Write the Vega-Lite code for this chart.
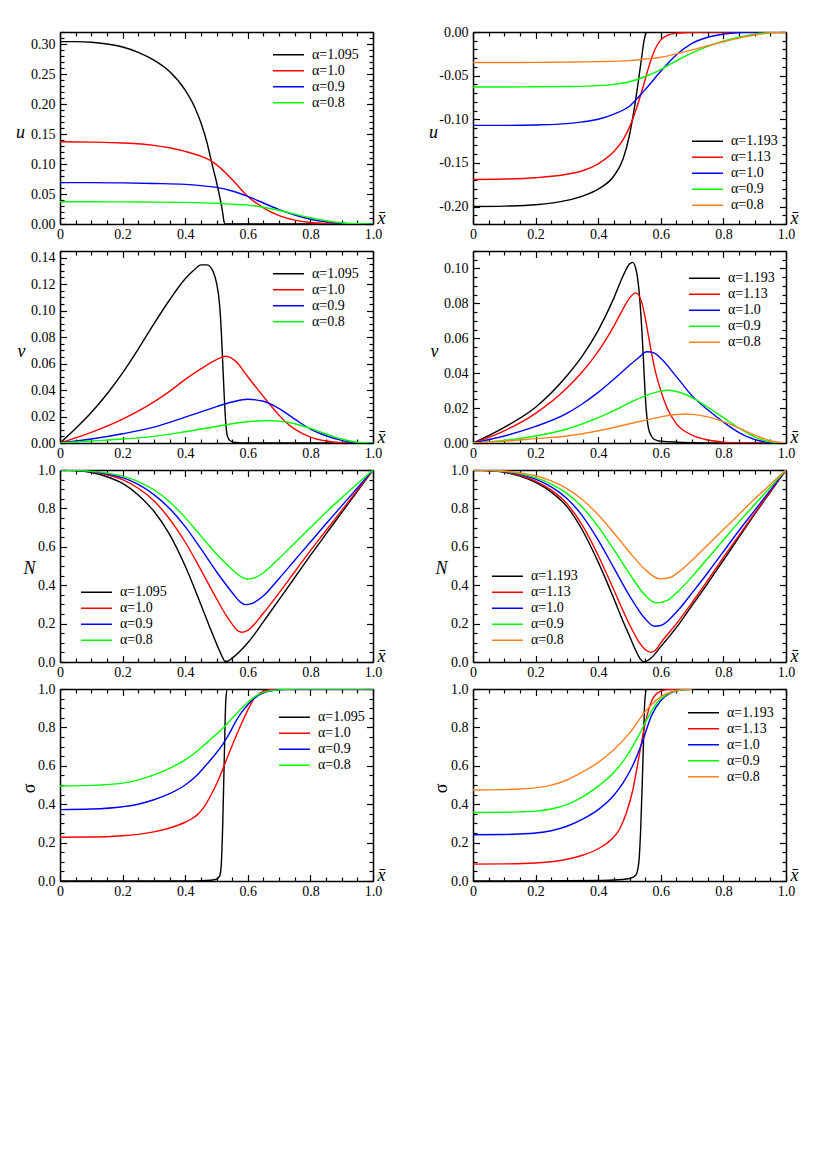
{
  "$schema": "https://vega.github.io/schema/vega-lite/v6.json",
  "background": "white",
  "padding": {"left": 15, "top": 25, "right": 5, "bottom": 5},
  "config": {
    "view": {"stroke": null},
    "font": "Liberation Serif, DejaVu Serif, serif",
    "axis": {
      "grid": false,
      "domainColor": "black",
      "domainWidth": 1.5,
      "tickColor": "black",
      "tickWidth": 1.2,
      "labelFont": "Liberation Serif, DejaVu Serif, serif",
      "labelFontSize": 14,
      "labelColor": "black",
      "labelFlush": false,
      "labelOverlap": false,
      "titleFont": "Liberation Serif, DejaVu Serif, serif",
      "titleFontSize": 18,
      "titleFontStyle": "italic",
      "titleFontWeight": "normal",
      "titleColor": "black"
    },
    "legend": {
      "orient": "none",
      "symbolType": "stroke",
      "symbolSize": 961,
      "symbolStrokeWidth": 1.5,
      "labelFont": "Liberation Serif, DejaVu Serif, serif",
      "labelFontSize": 14,
      "labelColor": "black",
      "labelOffset": 7,
      "labelLimit": 0,
      "clipHeight": 15.6,
      "rowPadding": 0,
      "padding": 0
    }
  },
  "datasets": {
    "uL": [
      {"a":"α=1.095","x":0,"y":0.304},{"a":"α=1.095","x":0.05,"y":0.304},{"a":"α=1.095","x":0.1,"y":0.303},{"a":"α=1.095","x":0.15,"y":0.3},{"a":"α=1.095","x":0.2,"y":0.295},{"a":"α=1.095","x":0.25,"y":0.286},{"a":"α=1.095","x":0.3,"y":0.273},{"a":"α=1.095","x":0.35,"y":0.254},{"a":"α=1.095","x":0.4,"y":0.223},{"a":"α=1.095","x":0.43,"y":0.195},{"a":"α=1.095","x":0.45,"y":0.169},{"a":"α=1.095","x":0.47,"y":0.135},{"a":"α=1.095","x":0.48,"y":0.113},{"a":"α=1.095","x":0.49,"y":0.091},{"a":"α=1.095","x":0.5,"y":0.07},{"a":"α=1.095","x":0.51,"y":0.046},{"a":"α=1.095","x":0.515,"y":0.033},{"a":"α=1.095","x":0.52,"y":0.018},{"a":"α=1.095","x":0.524,"y":0.004},{"a":"α=1.095","x":0.528,"y":0},{"a":"α=1.095","x":0.6,"y":0},{"a":"α=1.095","x":0.8,"y":0},{"a":"α=1.095","x":1,"y":0},
      {"a":"α=1.0","x":0,"y":0.137},{"a":"α=1.0","x":0.1,"y":0.1365},{"a":"α=1.0","x":0.2,"y":0.135},{"a":"α=1.0","x":0.3,"y":0.131},{"a":"α=1.0","x":0.35,"y":0.127},{"a":"α=1.0","x":0.4,"y":0.121},{"a":"α=1.0","x":0.45,"y":0.113},{"a":"α=1.0","x":0.48,"y":0.106},{"a":"α=1.0","x":0.5,"y":0.099},{"a":"α=1.0","x":0.55,"y":0.074},{"a":"α=1.0","x":0.6,"y":0.046},{"a":"α=1.0","x":0.65,"y":0.027},{"a":"α=1.0","x":0.7,"y":0.014},{"a":"α=1.0","x":0.75,"y":0.0065},{"a":"α=1.0","x":0.8,"y":0.0025},{"a":"α=1.0","x":0.85,"y":0.0008},{"a":"α=1.0","x":0.9,"y":0.0002},{"a":"α=1.0","x":0.95,"y":0},{"a":"α=1.0","x":1,"y":0},
      {"a":"α=0.9","x":0,"y":0.069},{"a":"α=0.9","x":0.1,"y":0.069},{"a":"α=0.9","x":0.2,"y":0.0685},{"a":"α=0.9","x":0.3,"y":0.0675},{"a":"α=0.9","x":0.4,"y":0.066},{"a":"α=0.9","x":0.45,"y":0.064},{"a":"α=0.9","x":0.5,"y":0.061},{"a":"α=0.9","x":0.55,"y":0.055},{"a":"α=0.9","x":0.6,"y":0.046},{"a":"α=0.9","x":0.65,"y":0.035},{"a":"α=0.9","x":0.7,"y":0.024},{"a":"α=0.9","x":0.75,"y":0.015},{"a":"α=0.9","x":0.8,"y":0.008},{"a":"α=0.9","x":0.85,"y":0.0035},{"a":"α=0.9","x":0.9,"y":0.001},{"a":"α=0.9","x":0.95,"y":0.0001},{"a":"α=0.9","x":1,"y":0},
      {"a":"α=0.8","x":0,"y":0.037},{"a":"α=0.8","x":0.1,"y":0.037},{"a":"α=0.8","x":0.2,"y":0.0368},{"a":"α=0.8","x":0.3,"y":0.0365},{"a":"α=0.8","x":0.4,"y":0.036},{"a":"α=0.8","x":0.5,"y":0.0345},{"a":"α=0.8","x":0.55,"y":0.033},{"a":"α=0.8","x":0.6,"y":0.0315},{"a":"α=0.8","x":0.65,"y":0.028},{"a":"α=0.8","x":0.7,"y":0.023},{"a":"α=0.8","x":0.75,"y":0.0165},{"a":"α=0.8","x":0.8,"y":0.0105},{"a":"α=0.8","x":0.85,"y":0.0055},{"a":"α=0.8","x":0.9,"y":0.002},{"a":"α=0.8","x":0.95,"y":0.0003},{"a":"α=0.8","x":1,"y":0}
    ],
    "uR": [
      {"a":"α=1.193","x":0,"y":-0.2},{"a":"α=1.193","x":0.1,"y":-0.1995},{"a":"α=1.193","x":0.2,"y":-0.198},{"a":"α=1.193","x":0.3,"y":-0.193},{"a":"α=1.193","x":0.35,"y":-0.188},{"a":"α=1.193","x":0.4,"y":-0.18},{"a":"α=1.193","x":0.45,"y":-0.165},{"a":"α=1.193","x":0.48,"y":-0.145},{"a":"α=1.193","x":0.5,"y":-0.118},{"a":"α=1.193","x":0.51,"y":-0.099},{"a":"α=1.193","x":0.52,"y":-0.077},{"a":"α=1.193","x":0.53,"y":-0.052},{"a":"α=1.193","x":0.54,"y":-0.026},{"a":"α=1.193","x":0.545,"y":-0.013},{"a":"α=1.193","x":0.55,"y":-0.004},{"a":"α=1.193","x":0.555,"y":-0.0005},{"a":"α=1.193","x":0.56,"y":0},{"a":"α=1.193","x":0.7,"y":0},{"a":"α=1.193","x":1,"y":0},
      {"a":"α=1.13","x":0,"y":-0.169},{"a":"α=1.13","x":0.1,"y":-0.1685},{"a":"α=1.13","x":0.2,"y":-0.167},{"a":"α=1.13","x":0.3,"y":-0.163},{"a":"α=1.13","x":0.35,"y":-0.159},{"a":"α=1.13","x":0.4,"y":-0.151},{"a":"α=1.13","x":0.45,"y":-0.137},{"a":"α=1.13","x":0.48,"y":-0.123},{"a":"α=1.13","x":0.5,"y":-0.109},{"a":"α=1.13","x":0.52,"y":-0.09},{"a":"α=1.13","x":0.54,"y":-0.067},{"a":"α=1.13","x":0.56,"y":-0.042},{"a":"α=1.13","x":0.58,"y":-0.021},{"a":"α=1.13","x":0.6,"y":-0.009},{"a":"α=1.13","x":0.62,"y":-0.004},{"a":"α=1.13","x":0.65,"y":-0.0015},{"a":"α=1.13","x":0.7,"y":-0.0003},{"a":"α=1.13","x":0.75,"y":0},{"a":"α=1.13","x":1,"y":0},
      {"a":"α=1.0","x":0,"y":-0.107},{"a":"α=1.0","x":0.1,"y":-0.107},{"a":"α=1.0","x":0.2,"y":-0.1065},{"a":"α=1.0","x":0.3,"y":-0.105},{"a":"α=1.0","x":0.35,"y":-0.103},{"a":"α=1.0","x":0.4,"y":-0.1},{"a":"α=1.0","x":0.45,"y":-0.094},{"a":"α=1.0","x":0.5,"y":-0.085},{"a":"α=1.0","x":0.55,"y":-0.066},{"a":"α=1.0","x":0.6,"y":-0.045},{"a":"α=1.0","x":0.65,"y":-0.026},{"a":"α=1.0","x":0.7,"y":-0.013},{"a":"α=1.0","x":0.75,"y":-0.006},{"a":"α=1.0","x":0.8,"y":-0.0025},{"a":"α=1.0","x":0.85,"y":-0.0007},{"a":"α=1.0","x":0.9,"y":-0.0001},{"a":"α=1.0","x":0.95,"y":0},{"a":"α=1.0","x":1,"y":0},
      {"a":"α=0.9","x":0,"y":-0.063},{"a":"α=0.9","x":0.1,"y":-0.063},{"a":"α=0.9","x":0.2,"y":-0.0628},{"a":"α=0.9","x":0.3,"y":-0.0625},{"a":"α=0.9","x":0.4,"y":-0.0615},{"a":"α=0.9","x":0.45,"y":-0.06},{"a":"α=0.9","x":0.5,"y":-0.057},{"a":"α=0.9","x":0.55,"y":-0.051},{"a":"α=0.9","x":0.6,"y":-0.043},{"a":"α=0.9","x":0.65,"y":-0.033},{"a":"α=0.9","x":0.7,"y":-0.024},{"a":"α=0.9","x":0.75,"y":-0.0165},{"a":"α=0.9","x":0.8,"y":-0.0105},{"a":"α=0.9","x":0.85,"y":-0.006},{"a":"α=0.9","x":0.9,"y":-0.0025},{"a":"α=0.9","x":0.95,"y":-0.0006},{"a":"α=0.9","x":1,"y":0},
      {"a":"α=0.8","x":0,"y":-0.035},{"a":"α=0.8","x":0.1,"y":-0.035},{"a":"α=0.8","x":0.2,"y":-0.0348},{"a":"α=0.8","x":0.3,"y":-0.0345},{"a":"α=0.8","x":0.4,"y":-0.034},{"a":"α=0.8","x":0.5,"y":-0.0328},{"a":"α=0.8","x":0.55,"y":-0.031},{"a":"α=0.8","x":0.6,"y":-0.029},{"a":"α=0.8","x":0.65,"y":-0.025},{"a":"α=0.8","x":0.7,"y":-0.0205},{"a":"α=0.8","x":0.75,"y":-0.0158},{"a":"α=0.8","x":0.8,"y":-0.0112},{"a":"α=0.8","x":0.85,"y":-0.007},{"a":"α=0.8","x":0.9,"y":-0.0035},{"a":"α=0.8","x":0.95,"y":-0.001},{"a":"α=0.8","x":1,"y":0}
    ],
    "vL": [
      {"a":"α=1.095","x":0,"y":0},{"a":"α=1.095","x":0.05,"y":0.011},{"a":"α=1.095","x":0.1,"y":0.023},{"a":"α=1.095","x":0.15,"y":0.037},{"a":"α=1.095","x":0.2,"y":0.053},{"a":"α=1.095","x":0.25,"y":0.071},{"a":"α=1.095","x":0.3,"y":0.09},{"a":"α=1.095","x":0.35,"y":0.108},{"a":"α=1.095","x":0.4,"y":0.124},{"a":"α=1.095","x":0.43,"y":0.131},{"a":"α=1.095","x":0.45,"y":0.1345},{"a":"α=1.095","x":0.47,"y":0.1345},{"a":"α=1.095","x":0.49,"y":0.129},{"a":"α=1.095","x":0.5,"y":0.121},{"a":"α=1.095","x":0.51,"y":0.104},{"a":"α=1.095","x":0.515,"y":0.086},{"a":"α=1.095","x":0.52,"y":0.06},{"a":"α=1.095","x":0.525,"y":0.034},{"a":"α=1.095","x":0.53,"y":0.014},{"a":"α=1.095","x":0.535,"y":0.005},{"a":"α=1.095","x":0.545,"y":0.0015},{"a":"α=1.095","x":0.56,"y":0.0004},{"a":"α=1.095","x":0.6,"y":0},{"a":"α=1.095","x":1,"y":0},
      {"a":"α=1.0","x":0,"y":0},{"a":"α=1.0","x":0.1,"y":0.008},{"a":"α=1.0","x":0.2,"y":0.018},{"a":"α=1.0","x":0.3,"y":0.031},{"a":"α=1.0","x":0.35,"y":0.039},{"a":"α=1.0","x":0.4,"y":0.048},{"a":"α=1.0","x":0.45,"y":0.056},{"a":"α=1.0","x":0.5,"y":0.063},{"a":"α=1.0","x":0.53,"y":0.0655},{"a":"α=1.0","x":0.56,"y":0.062},{"a":"α=1.0","x":0.6,"y":0.05},{"a":"α=1.0","x":0.65,"y":0.035},{"a":"α=1.0","x":0.7,"y":0.021},{"a":"α=1.0","x":0.72,"y":0.016},{"a":"α=1.0","x":0.75,"y":0.0105},{"a":"α=1.0","x":0.8,"y":0.0045},{"a":"α=1.0","x":0.85,"y":0.0015},{"a":"α=1.0","x":0.9,"y":0.0003},{"a":"α=1.0","x":0.95,"y":0},{"a":"α=1.0","x":1,"y":0},
      {"a":"α=0.9","x":0,"y":0},{"a":"α=0.9","x":0.1,"y":0.003},{"a":"α=0.9","x":0.2,"y":0.007},{"a":"α=0.9","x":0.3,"y":0.012},{"a":"α=0.9","x":0.4,"y":0.0195},{"a":"α=0.9","x":0.45,"y":0.0235},{"a":"α=0.9","x":0.5,"y":0.0275},{"a":"α=0.9","x":0.55,"y":0.031},{"a":"α=0.9","x":0.6,"y":0.033},{"a":"α=0.9","x":0.65,"y":0.0315},{"a":"α=0.9","x":0.7,"y":0.026},{"a":"α=0.9","x":0.75,"y":0.018},{"a":"α=0.9","x":0.8,"y":0.0105},{"a":"α=0.9","x":0.85,"y":0.0055},{"a":"α=0.9","x":0.9,"y":0.002},{"a":"α=0.9","x":0.95,"y":0.0002},{"a":"α=0.9","x":1,"y":0},
      {"a":"α=0.8","x":0,"y":0},{"a":"α=0.8","x":0.1,"y":0.0015},{"a":"α=0.8","x":0.2,"y":0.003},{"a":"α=0.8","x":0.3,"y":0.005},{"a":"α=0.8","x":0.4,"y":0.0085},{"a":"α=0.8","x":0.5,"y":0.0125},{"a":"α=0.8","x":0.55,"y":0.0145},{"a":"α=0.8","x":0.6,"y":0.016},{"a":"α=0.8","x":0.66,"y":0.017},{"a":"α=0.8","x":0.7,"y":0.0165},{"a":"α=0.8","x":0.75,"y":0.0145},{"a":"α=0.8","x":0.8,"y":0.011},{"a":"α=0.8","x":0.85,"y":0.0068},{"a":"α=0.8","x":0.9,"y":0.003},{"a":"α=0.8","x":0.95,"y":0.0006},{"a":"α=0.8","x":1,"y":0}
    ],
    "vR": [
      {"a":"α=1.193","x":0,"y":0},{"a":"α=1.193","x":0.1,"y":0.009},{"a":"α=1.193","x":0.2,"y":0.0205},{"a":"α=1.193","x":0.3,"y":0.0385},{"a":"α=1.193","x":0.35,"y":0.05},{"a":"α=1.193","x":0.4,"y":0.0645},{"a":"α=1.193","x":0.45,"y":0.083},{"a":"α=1.193","x":0.48,"y":0.096},{"a":"α=1.193","x":0.5,"y":0.1025},{"a":"α=1.193","x":0.51,"y":0.1035},{"a":"α=1.193","x":0.52,"y":0.1},{"a":"α=1.193","x":0.53,"y":0.088},{"a":"α=1.193","x":0.54,"y":0.063},{"a":"α=1.193","x":0.545,"y":0.046},{"a":"α=1.193","x":0.55,"y":0.028},{"a":"α=1.193","x":0.555,"y":0.016},{"a":"α=1.193","x":0.56,"y":0.009},{"a":"α=1.193","x":0.57,"y":0.004},{"a":"α=1.193","x":0.58,"y":0.002},{"a":"α=1.193","x":0.6,"y":0.001},{"a":"α=1.193","x":0.7,"y":0.0002},{"a":"α=1.193","x":0.8,"y":0},{"a":"α=1.193","x":1,"y":0},
      {"a":"α=1.13","x":0,"y":0},{"a":"α=1.13","x":0.1,"y":0.007},{"a":"α=1.13","x":0.2,"y":0.017},{"a":"α=1.13","x":0.3,"y":0.0315},{"a":"α=1.13","x":0.35,"y":0.041},{"a":"α=1.13","x":0.4,"y":0.0525},{"a":"α=1.13","x":0.45,"y":0.067},{"a":"α=1.13","x":0.48,"y":0.077},{"a":"α=1.13","x":0.5,"y":0.083},{"a":"α=1.13","x":0.52,"y":0.086},{"a":"α=1.13","x":0.54,"y":0.08},{"a":"α=1.13","x":0.55,"y":0.072},{"a":"α=1.13","x":0.56,"y":0.062},{"a":"α=1.13","x":0.57,"y":0.052},{"a":"α=1.13","x":0.58,"y":0.043},{"a":"α=1.13","x":0.6,"y":0.03},{"a":"α=1.13","x":0.62,"y":0.02},{"a":"α=1.13","x":0.65,"y":0.011},{"a":"α=1.13","x":0.7,"y":0.0045},{"a":"α=1.13","x":0.75,"y":0.0017},{"a":"α=1.13","x":0.8,"y":0.0005},{"a":"α=1.13","x":0.85,"y":0.0001},{"a":"α=1.13","x":0.9,"y":0},{"a":"α=1.13","x":1,"y":0},
      {"a":"α=1.0","x":0,"y":0},{"a":"α=1.0","x":0.1,"y":0.004},{"a":"α=1.0","x":0.2,"y":0.0095},{"a":"α=1.0","x":0.3,"y":0.017},{"a":"α=1.0","x":0.35,"y":0.0225},{"a":"α=1.0","x":0.4,"y":0.029},{"a":"α=1.0","x":0.45,"y":0.0365},{"a":"α=1.0","x":0.5,"y":0.0445},{"a":"α=1.0","x":0.53,"y":0.049},{"a":"α=1.0","x":0.555,"y":0.0523},{"a":"α=1.0","x":0.58,"y":0.0515},{"a":"α=1.0","x":0.6,"y":0.0485},{"a":"α=1.0","x":0.65,"y":0.038},{"a":"α=1.0","x":0.7,"y":0.027},{"a":"α=1.0","x":0.75,"y":0.019},{"a":"α=1.0","x":0.8,"y":0.012},{"a":"α=1.0","x":0.85,"y":0.006},{"a":"α=1.0","x":0.9,"y":0.002},{"a":"α=1.0","x":0.95,"y":0.0003},{"a":"α=1.0","x":1,"y":0},
      {"a":"α=0.9","x":0,"y":0},{"a":"α=0.9","x":0.1,"y":0.0015},{"a":"α=0.9","x":0.2,"y":0.004},{"a":"α=0.9","x":0.3,"y":0.008},{"a":"α=0.9","x":0.4,"y":0.0145},{"a":"α=0.9","x":0.45,"y":0.0185},{"a":"α=0.9","x":0.5,"y":0.023},{"a":"α=0.9","x":0.55,"y":0.027},{"a":"α=0.9","x":0.6,"y":0.0297},{"a":"α=0.9","x":0.62,"y":0.0302},{"a":"α=0.9","x":0.65,"y":0.0295},{"a":"α=0.9","x":0.7,"y":0.026},{"a":"α=0.9","x":0.75,"y":0.0205},{"a":"α=0.9","x":0.8,"y":0.0145},{"a":"α=0.9","x":0.85,"y":0.0085},{"a":"α=0.9","x":0.9,"y":0.0035},{"a":"α=0.9","x":0.95,"y":0.0007},{"a":"α=0.9","x":1,"y":0},
      {"a":"α=0.8","x":0,"y":0},{"a":"α=0.8","x":0.1,"y":0.001},{"a":"α=0.8","x":0.2,"y":0.0025},{"a":"α=0.8","x":0.3,"y":0.004},{"a":"α=0.8","x":0.4,"y":0.007},{"a":"α=0.8","x":0.5,"y":0.011},{"a":"α=0.8","x":0.55,"y":0.013},{"a":"α=0.8","x":0.6,"y":0.015},{"a":"α=0.8","x":0.65,"y":0.0163},{"a":"α=0.8","x":0.68,"y":0.0166},{"a":"α=0.8","x":0.7,"y":0.0164},{"a":"α=0.8","x":0.75,"y":0.015},{"a":"α=0.8","x":0.8,"y":0.0122},{"a":"α=0.8","x":0.85,"y":0.0085},{"a":"α=0.8","x":0.9,"y":0.0045},{"a":"α=0.8","x":0.95,"y":0.0013},{"a":"α=0.8","x":1,"y":0}
    ],
    "NL": [
      {"a":"α=1.095","x":0,"y":1},{"a":"α=1.095","x":0.05,"y":0.997},{"a":"α=1.095","x":0.1,"y":0.987},{"a":"α=1.095","x":0.15,"y":0.965},{"a":"α=1.095","x":0.2,"y":0.93},{"a":"α=1.095","x":0.25,"y":0.87},{"a":"α=1.095","x":0.3,"y":0.785},{"a":"α=1.095","x":0.35,"y":0.665},{"a":"α=1.095","x":0.4,"y":0.5},{"a":"α=1.095","x":0.45,"y":0.3},{"a":"α=1.095","x":0.48,"y":0.175},{"a":"α=1.095","x":0.5,"y":0.095},{"a":"α=1.095","x":0.51,"y":0.057},{"a":"α=1.095","x":0.52,"y":0.022},{"a":"α=1.095","x":0.527,"y":0.004},{"a":"α=1.095","x":0.535,"y":0.004},{"a":"α=1.095","x":0.55,"y":0.02},{"a":"α=1.095","x":0.6,"y":0.1},{"a":"α=1.095","x":0.65,"y":0.21},{"a":"α=1.095","x":0.7,"y":0.325},{"a":"α=1.095","x":0.75,"y":0.44},{"a":"α=1.095","x":0.8,"y":0.555},{"a":"α=1.095","x":0.85,"y":0.667},{"a":"α=1.095","x":0.9,"y":0.778},{"a":"α=1.095","x":0.95,"y":0.889},{"a":"α=1.095","x":1,"y":1},
      {"a":"α=1.0","x":0,"y":1},{"a":"α=1.0","x":0.05,"y":0.998},{"a":"α=1.0","x":0.1,"y":0.99},{"a":"α=1.0","x":0.15,"y":0.975},{"a":"α=1.0","x":0.2,"y":0.95},{"a":"α=1.0","x":0.25,"y":0.905},{"a":"α=1.0","x":0.3,"y":0.84},{"a":"α=1.0","x":0.35,"y":0.745},{"a":"α=1.0","x":0.4,"y":0.625},{"a":"α=1.0","x":0.45,"y":0.48},{"a":"α=1.0","x":0.5,"y":0.33},{"a":"α=1.0","x":0.53,"y":0.245},{"a":"α=1.0","x":0.55,"y":0.197},{"a":"α=1.0","x":0.565,"y":0.167},{"a":"α=1.0","x":0.58,"y":0.155},{"a":"α=1.0","x":0.6,"y":0.165},{"a":"α=1.0","x":0.65,"y":0.255},{"a":"α=1.0","x":0.7,"y":0.36},{"a":"α=1.0","x":0.75,"y":0.47},{"a":"α=1.0","x":0.8,"y":0.58},{"a":"α=1.0","x":0.85,"y":0.685},{"a":"α=1.0","x":0.9,"y":0.79},{"a":"α=1.0","x":0.95,"y":0.895},{"a":"α=1.0","x":1,"y":1},
      {"a":"α=0.9","x":0,"y":1},{"a":"α=0.9","x":0.05,"y":0.998},{"a":"α=0.9","x":0.1,"y":0.992},{"a":"α=0.9","x":0.15,"y":0.98},{"a":"α=0.9","x":0.2,"y":0.96},{"a":"α=0.9","x":0.25,"y":0.925},{"a":"α=0.9","x":0.3,"y":0.872},{"a":"α=0.9","x":0.35,"y":0.8},{"a":"α=0.9","x":0.4,"y":0.705},{"a":"α=0.9","x":0.45,"y":0.59},{"a":"α=0.9","x":0.5,"y":0.47},{"a":"α=0.9","x":0.55,"y":0.362},{"a":"α=0.9","x":0.575,"y":0.314},{"a":"α=0.9","x":0.592,"y":0.299},{"a":"α=0.9","x":0.61,"y":0.303},{"a":"α=0.9","x":0.65,"y":0.345},{"a":"α=0.9","x":0.7,"y":0.435},{"a":"α=0.9","x":0.75,"y":0.53},{"a":"α=0.9","x":0.8,"y":0.625},{"a":"α=0.9","x":0.85,"y":0.72},{"a":"α=0.9","x":0.9,"y":0.813},{"a":"α=0.9","x":0.95,"y":0.906},{"a":"α=0.9","x":1,"y":1},
      {"a":"α=0.8","x":0,"y":1},{"a":"α=0.8","x":0.05,"y":0.998},{"a":"α=0.8","x":0.1,"y":0.993},{"a":"α=0.8","x":0.15,"y":0.984},{"a":"α=0.8","x":0.2,"y":0.968},{"a":"α=0.8","x":0.25,"y":0.94},{"a":"α=0.8","x":0.3,"y":0.897},{"a":"α=0.8","x":0.35,"y":0.835},{"a":"α=0.8","x":0.4,"y":0.752},{"a":"α=0.8","x":0.45,"y":0.657},{"a":"α=0.8","x":0.5,"y":0.562},{"a":"α=0.8","x":0.55,"y":0.482},{"a":"α=0.8","x":0.58,"y":0.443},{"a":"α=0.8","x":0.597,"y":0.432},{"a":"α=0.8","x":0.62,"y":0.437},{"a":"α=0.8","x":0.65,"y":0.465},{"a":"α=0.8","x":0.7,"y":0.54},{"a":"α=0.8","x":0.75,"y":0.62},{"a":"α=0.8","x":0.8,"y":0.7},{"a":"α=0.8","x":0.85,"y":0.78},{"a":"α=0.8","x":0.9,"y":0.855},{"a":"α=0.8","x":0.95,"y":0.928},{"a":"α=0.8","x":1,"y":1}
    ],
    "NR": [
      {"a":"α=1.193","x":0,"y":1},{"a":"α=1.193","x":0.05,"y":0.997},{"a":"α=1.193","x":0.1,"y":0.988},{"a":"α=1.193","x":0.15,"y":0.968},{"a":"α=1.193","x":0.2,"y":0.935},{"a":"α=1.193","x":0.25,"y":0.885},{"a":"α=1.193","x":0.3,"y":0.81},{"a":"α=1.193","x":0.35,"y":0.685},{"a":"α=1.193","x":0.4,"y":0.52},{"a":"α=1.193","x":0.45,"y":0.33},{"a":"α=1.193","x":0.48,"y":0.21},{"a":"α=1.193","x":0.5,"y":0.135},{"a":"α=1.193","x":0.52,"y":0.06},{"a":"α=1.193","x":0.535,"y":0.015},{"a":"α=1.193","x":0.545,"y":0.002},{"a":"α=1.193","x":0.555,"y":0.005},{"a":"α=1.193","x":0.57,"y":0.022},{"a":"α=1.193","x":0.6,"y":0.08},{"a":"α=1.193","x":0.65,"y":0.18},{"a":"α=1.193","x":0.7,"y":0.295},{"a":"α=1.193","x":0.75,"y":0.41},{"a":"α=1.193","x":0.8,"y":0.53},{"a":"α=1.193","x":0.85,"y":0.65},{"a":"α=1.193","x":0.9,"y":0.77},{"a":"α=1.193","x":0.95,"y":0.885},{"a":"α=1.193","x":1,"y":1},
      {"a":"α=1.13","x":0,"y":1},{"a":"α=1.13","x":0.05,"y":0.997},{"a":"α=1.13","x":0.1,"y":0.99},{"a":"α=1.13","x":0.15,"y":0.972},{"a":"α=1.13","x":0.2,"y":0.942},{"a":"α=1.13","x":0.25,"y":0.895},{"a":"α=1.13","x":0.3,"y":0.825},{"a":"α=1.13","x":0.35,"y":0.71},{"a":"α=1.13","x":0.4,"y":0.555},{"a":"α=1.13","x":0.45,"y":0.375},{"a":"α=1.13","x":0.48,"y":0.265},{"a":"α=1.13","x":0.5,"y":0.195},{"a":"α=1.13","x":0.53,"y":0.105},{"a":"α=1.13","x":0.55,"y":0.065},{"a":"α=1.13","x":0.569,"y":0.05},{"a":"α=1.13","x":0.585,"y":0.065},{"a":"α=1.13","x":0.6,"y":0.1},{"a":"α=1.13","x":0.65,"y":0.2},{"a":"α=1.13","x":0.7,"y":0.31},{"a":"α=1.13","x":0.75,"y":0.425},{"a":"α=1.13","x":0.8,"y":0.545},{"a":"α=1.13","x":0.85,"y":0.66},{"a":"α=1.13","x":0.9,"y":0.775},{"a":"α=1.13","x":0.95,"y":0.888},{"a":"α=1.13","x":1,"y":1},
      {"a":"α=1.0","x":0,"y":1},{"a":"α=1.0","x":0.05,"y":0.998},{"a":"α=1.0","x":0.1,"y":0.992},{"a":"α=1.0","x":0.15,"y":0.977},{"a":"α=1.0","x":0.2,"y":0.952},{"a":"α=1.0","x":0.25,"y":0.912},{"a":"α=1.0","x":0.3,"y":0.852},{"a":"α=1.0","x":0.35,"y":0.76},{"a":"α=1.0","x":0.4,"y":0.635},{"a":"α=1.0","x":0.45,"y":0.49},{"a":"α=1.0","x":0.5,"y":0.345},{"a":"α=1.0","x":0.55,"y":0.225},{"a":"α=1.0","x":0.58,"y":0.186},{"a":"α=1.0","x":0.6,"y":0.19},{"a":"α=1.0","x":0.65,"y":0.26},{"a":"α=1.0","x":0.7,"y":0.36},{"a":"α=1.0","x":0.75,"y":0.465},{"a":"α=1.0","x":0.8,"y":0.575},{"a":"α=1.0","x":0.85,"y":0.685},{"a":"α=1.0","x":0.9,"y":0.79},{"a":"α=1.0","x":0.95,"y":0.895},{"a":"α=1.0","x":1,"y":1},
      {"a":"α=0.9","x":0,"y":1},{"a":"α=0.9","x":0.05,"y":0.998},{"a":"α=0.9","x":0.1,"y":0.993},{"a":"α=0.9","x":0.15,"y":0.981},{"a":"α=0.9","x":0.2,"y":0.96},{"a":"α=0.9","x":0.25,"y":0.927},{"a":"α=0.9","x":0.3,"y":0.878},{"a":"α=0.9","x":0.35,"y":0.805},{"a":"α=0.9","x":0.4,"y":0.705},{"a":"α=0.9","x":0.45,"y":0.585},{"a":"α=0.9","x":0.5,"y":0.46},{"a":"α=0.9","x":0.55,"y":0.348},{"a":"α=0.9","x":0.585,"y":0.308},{"a":"α=0.9","x":0.62,"y":0.32},{"a":"α=0.9","x":0.65,"y":0.36},{"a":"α=0.9","x":0.7,"y":0.445},{"a":"α=0.9","x":0.75,"y":0.54},{"a":"α=0.9","x":0.8,"y":0.635},{"a":"α=0.9","x":0.85,"y":0.73},{"a":"α=0.9","x":0.9,"y":0.82},{"a":"α=0.9","x":0.95,"y":0.91},{"a":"α=0.9","x":1,"y":1},
      {"a":"α=0.8","x":0,"y":1},{"a":"α=0.8","x":0.05,"y":0.999},{"a":"α=0.8","x":0.1,"y":0.995},{"a":"α=0.8","x":0.15,"y":0.985},{"a":"α=0.8","x":0.2,"y":0.97},{"a":"α=0.8","x":0.25,"y":0.943},{"a":"α=0.8","x":0.3,"y":0.903},{"a":"α=0.8","x":0.35,"y":0.845},{"a":"α=0.8","x":0.4,"y":0.767},{"a":"α=0.8","x":0.45,"y":0.672},{"a":"α=0.8","x":0.5,"y":0.572},{"a":"α=0.8","x":0.55,"y":0.482},{"a":"α=0.8","x":0.596,"y":0.433},{"a":"α=0.8","x":0.63,"y":0.44},{"a":"α=0.8","x":0.65,"y":0.46},{"a":"α=0.8","x":0.7,"y":0.53},{"a":"α=0.8","x":0.75,"y":0.61},{"a":"α=0.8","x":0.8,"y":0.69},{"a":"α=0.8","x":0.85,"y":0.77},{"a":"α=0.8","x":0.9,"y":0.85},{"a":"α=0.8","x":0.95,"y":0.925},{"a":"α=0.8","x":1,"y":1}
    ],
    "sL": [
      {"a":"α=1.095","x":0,"y":0},{"a":"α=1.095","x":0.3,"y":0},{"a":"α=1.095","x":0.4,"y":0.0005},{"a":"α=1.095","x":0.45,"y":0.0015},{"a":"α=1.095","x":0.48,"y":0.004},{"a":"α=1.095","x":0.5,"y":0.01},{"a":"α=1.095","x":0.51,"y":0.025},{"a":"α=1.095","x":0.515,"y":0.08},{"a":"α=1.095","x":0.52,"y":0.3},{"a":"α=1.095","x":0.525,"y":0.65},{"a":"α=1.095","x":0.53,"y":0.95},{"a":"α=1.095","x":0.535,"y":1},{"a":"α=1.095","x":0.6,"y":1},{"a":"α=1.095","x":1,"y":1},
      {"a":"α=1.0","x":0,"y":0.228},{"a":"α=1.0","x":0.1,"y":0.229},{"a":"α=1.0","x":0.2,"y":0.236},{"a":"α=1.0","x":0.25,"y":0.243},{"a":"α=1.0","x":0.3,"y":0.256},{"a":"α=1.0","x":0.35,"y":0.276},{"a":"α=1.0","x":0.4,"y":0.306},{"a":"α=1.0","x":0.42,"y":0.323},{"a":"α=1.0","x":0.44,"y":0.347},{"a":"α=1.0","x":0.46,"y":0.385},{"a":"α=1.0","x":0.48,"y":0.44},{"a":"α=1.0","x":0.5,"y":0.505},{"a":"α=1.0","x":0.52,"y":0.583},{"a":"α=1.0","x":0.54,"y":0.665},{"a":"α=1.0","x":0.56,"y":0.745},{"a":"α=1.0","x":0.58,"y":0.82},{"a":"α=1.0","x":0.6,"y":0.89},{"a":"α=1.0","x":0.62,"y":0.95},{"a":"α=1.0","x":0.64,"y":0.98},{"a":"α=1.0","x":0.67,"y":0.996},{"a":"α=1.0","x":0.7,"y":1},{"a":"α=1.0","x":1,"y":1},
      {"a":"α=0.9","x":0,"y":0.372},{"a":"α=0.9","x":0.1,"y":0.375},{"a":"α=0.9","x":0.2,"y":0.387},{"a":"α=0.9","x":0.25,"y":0.4},{"a":"α=0.9","x":0.3,"y":0.423},{"a":"α=0.9","x":0.35,"y":0.455},{"a":"α=0.9","x":0.4,"y":0.5},{"a":"α=0.9","x":0.44,"y":0.555},{"a":"α=0.9","x":0.47,"y":0.61},{"a":"α=0.9","x":0.5,"y":0.668},{"a":"α=0.9","x":0.52,"y":0.712},{"a":"α=0.9","x":0.54,"y":0.765},{"a":"α=0.9","x":0.56,"y":0.826},{"a":"α=0.9","x":0.58,"y":0.878},{"a":"α=0.9","x":0.6,"y":0.918},{"a":"α=0.9","x":0.62,"y":0.951},{"a":"α=0.9","x":0.65,"y":0.98},{"a":"α=0.9","x":0.7,"y":0.996},{"a":"α=0.9","x":0.75,"y":1},{"a":"α=0.9","x":1,"y":1},
      {"a":"α=0.8","x":0,"y":0.495},{"a":"α=0.8","x":0.1,"y":0.498},{"a":"α=0.8","x":0.2,"y":0.51},{"a":"α=0.8","x":0.25,"y":0.527},{"a":"α=0.8","x":0.3,"y":0.553},{"a":"α=0.8","x":0.35,"y":0.587},{"a":"α=0.8","x":0.4,"y":0.631},{"a":"α=0.8","x":0.44,"y":0.678},{"a":"α=0.8","x":0.47,"y":0.722},{"a":"α=0.8","x":0.5,"y":0.765},{"a":"α=0.8","x":0.52,"y":0.795},{"a":"α=0.8","x":0.54,"y":0.83},{"a":"α=0.8","x":0.56,"y":0.865},{"a":"α=0.8","x":0.58,"y":0.9},{"a":"α=0.8","x":0.6,"y":0.93},{"a":"α=0.8","x":0.62,"y":0.957},{"a":"α=0.8","x":0.65,"y":0.982},{"a":"α=0.8","x":0.7,"y":0.996},{"a":"α=0.8","x":0.75,"y":1},{"a":"α=0.8","x":1,"y":1}
    ],
    "sR": [
      {"a":"α=1.193","x":0,"y":0},{"a":"α=1.193","x":0.3,"y":0.001},{"a":"α=1.193","x":0.4,"y":0.003},{"a":"α=1.193","x":0.45,"y":0.005},{"a":"α=1.193","x":0.5,"y":0.013},{"a":"α=1.193","x":0.52,"y":0.03},{"a":"α=1.193","x":0.53,"y":0.1},{"a":"α=1.193","x":0.536,"y":0.28},{"a":"α=1.193","x":0.543,"y":0.63},{"a":"α=1.193","x":0.549,"y":0.94},{"a":"α=1.193","x":0.555,"y":1},{"a":"α=1.193","x":0.7,"y":1},
      {"a":"α=1.13","x":0,"y":0.088},{"a":"α=1.13","x":0.1,"y":0.089},{"a":"α=1.13","x":0.2,"y":0.094},{"a":"α=1.13","x":0.25,"y":0.1},{"a":"α=1.13","x":0.3,"y":0.113},{"a":"α=1.13","x":0.35,"y":0.134},{"a":"α=1.13","x":0.4,"y":0.168},{"a":"α=1.13","x":0.44,"y":0.213},{"a":"α=1.13","x":0.47,"y":0.275},{"a":"α=1.13","x":0.49,"y":0.355},{"a":"α=1.13","x":0.51,"y":0.47},{"a":"α=1.13","x":0.53,"y":0.645},{"a":"α=1.13","x":0.55,"y":0.82},{"a":"α=1.13","x":0.57,"y":0.935},{"a":"α=1.13","x":0.59,"y":0.98},{"a":"α=1.13","x":0.62,"y":0.997},{"a":"α=1.13","x":0.65,"y":1},{"a":"α=1.13","x":0.7,"y":1},
      {"a":"α=1.0","x":0,"y":0.241},{"a":"α=1.0","x":0.1,"y":0.242},{"a":"α=1.0","x":0.15,"y":0.245},{"a":"α=1.0","x":0.2,"y":0.25},{"a":"α=1.0","x":0.25,"y":0.262},{"a":"α=1.0","x":0.3,"y":0.285},{"a":"α=1.0","x":0.35,"y":0.322},{"a":"α=1.0","x":0.4,"y":0.372},{"a":"α=1.0","x":0.45,"y":0.447},{"a":"α=1.0","x":0.48,"y":0.513},{"a":"α=1.0","x":0.51,"y":0.6},{"a":"α=1.0","x":0.54,"y":0.72},{"a":"α=1.0","x":0.57,"y":0.86},{"a":"α=1.0","x":0.6,"y":0.94},{"a":"α=1.0","x":0.63,"y":0.978},{"a":"α=1.0","x":0.66,"y":0.995},{"a":"α=1.0","x":0.7,"y":1},
      {"a":"α=0.9","x":0,"y":0.357},{"a":"α=0.9","x":0.1,"y":0.358},{"a":"α=0.9","x":0.15,"y":0.36},{"a":"α=0.9","x":0.2,"y":0.364},{"a":"α=0.9","x":0.25,"y":0.375},{"a":"α=0.9","x":0.3,"y":0.398},{"a":"α=0.9","x":0.35,"y":0.438},{"a":"α=0.9","x":0.4,"y":0.494},{"a":"α=0.9","x":0.45,"y":0.565},{"a":"α=0.9","x":0.5,"y":0.672},{"a":"α=0.9","x":0.53,"y":0.76},{"a":"α=0.9","x":0.56,"y":0.855},{"a":"α=0.9","x":0.59,"y":0.932},{"a":"α=0.9","x":0.62,"y":0.972},{"a":"α=0.9","x":0.65,"y":0.99},{"a":"α=0.9","x":0.7,"y":1},
      {"a":"α=0.8","x":0,"y":0.474},{"a":"α=0.8","x":0.1,"y":0.476},{"a":"α=0.8","x":0.15,"y":0.479},{"a":"α=0.8","x":0.2,"y":0.485},{"a":"α=0.8","x":0.25,"y":0.499},{"a":"α=0.8","x":0.3,"y":0.526},{"a":"α=0.8","x":0.35,"y":0.568},{"a":"α=0.8","x":0.4,"y":0.618},{"a":"α=0.8","x":0.45,"y":0.684},{"a":"α=0.8","x":0.5,"y":0.77},{"a":"α=0.8","x":0.55,"y":0.882},{"a":"α=0.8","x":0.6,"y":0.96},{"a":"α=0.8","x":0.65,"y":0.992},{"a":"α=0.8","x":0.7,"y":1}
    ]
  },
  "columns": 2,
  "spacing": {"row": 27, "column": 100},
  "bounds": "flush",
  "resolve": {"scale": {"color": "independent", "x": "independent", "y": "independent"}},
  "concat": [
    {
      "width": 313, "height": 192,
      "data": {"name": "uL"},
      "layer": [
        {
          "mark": {"type": "line", "interpolate": "monotone", "strokeWidth": 1.4, "clip": true},
          "encoding": {
            "x": {"field": "x", "type": "quantitative", "scale": {"domain": [0, 1]},
              "axis": {"orient": "bottom", "values": [0,0.05,0.1,0.15,0.2,0.25,0.3,0.35,0.4,0.45,0.5,0.55,0.6,0.65,0.7,0.75,0.8,0.85,0.9,0.95,1],
                "tickSize": {"condition": {"test": "abs(datum.value*5-round(datum.value*5))<0.001", "value": -6.5}, "value": -4},
                "labelExpr": "abs(datum.value*5-round(datum.value*5))<0.001 ? (datum.value==0 ? '0' : format(datum.value,'.1f')) : ''",
                "labelPadding": 9.5, "title": "x̄", "titleX": 321, "titleY": -1, "titleAlign": "center", "titleBaseline": "alphabetic", "titleAngle": 0}},
            "y": {"field": "y", "type": "quantitative", "scale": {"domain": [0, 0.32]},
              "axis": {"orient": "left", "values": [0,0.01,0.02,0.03,0.04,0.05,0.06,0.07,0.08,0.09,0.1,0.11,0.12,0.13,0.14,0.15,0.16,0.17,0.18,0.19,0.2,0.21,0.22,0.23,0.24,0.25,0.26,0.27,0.28,0.29,0.3,0.31,0.32],
                "tickSize": {"condition": {"test": "abs(datum.value*20-round(datum.value*20))<0.001", "value": -6.5}, "value": -4},
                "labelExpr": "abs(datum.value*20-round(datum.value*20))<0.001 ? format(datum.value,'.2f') : ''",
                "labelPadding": 11.5, "title": "u", "titleAngle": 0, "titleX": -40, "titleY": 100, "titleAlign": "center", "titleBaseline": "middle"}},
            "color": {"field": "a", "type": "nominal",
              "scale": {"domain": ["α=1.095", "α=1.0", "α=0.9", "α=0.8"], "range": ["#000000", "#ff0000", "#0000ff", "#00ff00"]},
              "legend": {"title": null, "legendX": 212, "legendY": 15}}
          }
        },
        {
          "mark": {"type": "line", "opacity": 0},
          "encoding": {
            "x": {"field": "x", "type": "quantitative", "scale": {"domain": [0, 1]},
              "axis": {"orient": "top", "values": [0,0.05,0.1,0.15,0.2,0.25,0.3,0.35,0.4,0.45,0.5,0.55,0.6,0.65,0.7,0.75,0.8,0.85,0.9,0.95,1],
                "tickSize": {"condition": {"test": "abs(datum.value*5-round(datum.value*5))<0.001", "value": -6.5}, "value": -4}, "labels": false, "title": null}},
            "y": {"field": "y", "type": "quantitative", "scale": {"domain": [0, 0.32]},
              "axis": {"orient": "right", "values": [0,0.01,0.02,0.03,0.04,0.05,0.06,0.07,0.08,0.09,0.1,0.11,0.12,0.13,0.14,0.15,0.16,0.17,0.18,0.19,0.2,0.21,0.22,0.23,0.24,0.25,0.26,0.27,0.28,0.29,0.3,0.31,0.32],
                "tickSize": {"condition": {"test": "abs(datum.value*20-round(datum.value*20))<0.001", "value": -6.5}, "value": -4}, "labels": false, "title": null}}
          }
        }
      ],
      "resolve": {"axis": {"x": "independent", "y": "independent"}}
    },
    {
      "width": 313, "height": 192,
      "data": {"name": "uR"},
      "layer": [
        {
          "mark": {"type": "line", "interpolate": "monotone", "strokeWidth": 1.4, "clip": true},
          "encoding": {
            "x": {"field": "x", "type": "quantitative", "scale": {"domain": [0, 1]},
              "axis": {"orient": "bottom", "values": [0,0.05,0.1,0.15,0.2,0.25,0.3,0.35,0.4,0.45,0.5,0.55,0.6,0.65,0.7,0.75,0.8,0.85,0.9,0.95,1],
                "tickSize": {"condition": {"test": "abs(datum.value*5-round(datum.value*5))<0.001", "value": -6.5}, "value": -4},
                "labelExpr": "abs(datum.value*5-round(datum.value*5))<0.001 ? (datum.value==0 ? '0' : format(datum.value,'.1f')) : ''",
                "labelPadding": 9.5, "title": "x̄", "titleX": 321, "titleY": -1, "titleAlign": "center", "titleBaseline": "alphabetic", "titleAngle": 0}},
            "y": {"field": "y", "type": "quantitative", "scale": {"domain": [-0.22, 0]},
              "axis": {"orient": "left", "values": [-0.22,-0.21,-0.2,-0.19,-0.18,-0.17,-0.16,-0.15,-0.14,-0.13,-0.12,-0.11,-0.1,-0.09,-0.08,-0.07,-0.06,-0.05,-0.04,-0.03,-0.02,-0.01,0],
                "tickSize": {"condition": {"test": "abs(datum.value*20-round(datum.value*20))<0.001", "value": -6.5}, "value": -4},
                "labelExpr": "abs(datum.value*20-round(datum.value*20))<0.001 ? (datum.value < -0.001 ? '-' + format(-datum.value,'.2f') : '0.00') : ''",
                "labelPadding": 11.5, "title": "u", "titleAngle": 0, "titleX": -40, "titleY": 100, "titleAlign": "center", "titleBaseline": "middle"}},
            "color": {"field": "a", "type": "nominal",
              "scale": {"domain": ["α=1.193", "α=1.13", "α=1.0", "α=0.9", "α=0.8"], "range": ["#000000", "#ff0000", "#0000ff", "#00ff00", "#ff8020"]},
              "legend": {"title": null, "legendX": 218, "legendY": 101.5}}
          }
        },
        {
          "mark": {"type": "line", "opacity": 0},
          "encoding": {
            "x": {"field": "x", "type": "quantitative", "scale": {"domain": [0, 1]},
              "axis": {"orient": "top", "values": [0,0.05,0.1,0.15,0.2,0.25,0.3,0.35,0.4,0.45,0.5,0.55,0.6,0.65,0.7,0.75,0.8,0.85,0.9,0.95,1],
                "tickSize": {"condition": {"test": "abs(datum.value*5-round(datum.value*5))<0.001", "value": -6.5}, "value": -4}, "labels": false, "title": null}},
            "y": {"field": "y", "type": "quantitative", "scale": {"domain": [-0.22, 0]},
              "axis": {"orient": "right", "values": [-0.22,-0.21,-0.2,-0.19,-0.18,-0.17,-0.16,-0.15,-0.14,-0.13,-0.12,-0.11,-0.1,-0.09,-0.08,-0.07,-0.06,-0.05,-0.04,-0.03,-0.02,-0.01,0],
                "tickSize": {"condition": {"test": "abs(datum.value*20-round(datum.value*20))<0.001", "value": -6.5}, "value": -4}, "labels": false, "title": null}}
          }
        }
      ],
      "resolve": {"axis": {"x": "independent", "y": "independent"}}
    },
    {
      "width": 313, "height": 192,
      "data": {"name": "vL"},
      "layer": [
        {
          "mark": {"type": "line", "interpolate": "monotone", "strokeWidth": 1.4, "clip": true},
          "encoding": {
            "x": {"field": "x", "type": "quantitative", "scale": {"domain": [0, 1]},
              "axis": {"orient": "bottom", "values": [0,0.05,0.1,0.15,0.2,0.25,0.3,0.35,0.4,0.45,0.5,0.55,0.6,0.65,0.7,0.75,0.8,0.85,0.9,0.95,1],
                "tickSize": {"condition": {"test": "abs(datum.value*5-round(datum.value*5))<0.001", "value": -6.5}, "value": -4},
                "labelExpr": "abs(datum.value*5-round(datum.value*5))<0.001 ? (datum.value==0 ? '0' : format(datum.value,'.1f')) : ''",
                "labelPadding": 9.5, "title": "x̄", "titleX": 321, "titleY": -1, "titleAlign": "center", "titleBaseline": "alphabetic", "titleAngle": 0}},
            "y": {"field": "y", "type": "quantitative", "scale": {"domain": [0, 0.145]},
              "axis": {"orient": "left", "values": [0,0.005,0.01,0.015,0.02,0.025,0.03,0.035,0.04,0.045,0.05,0.055,0.06,0.065,0.07,0.075,0.08,0.085,0.09,0.095,0.1,0.105,0.11,0.115,0.12,0.125,0.13,0.135,0.14,0.145],
                "tickSize": {"condition": {"test": "abs(datum.value*50-round(datum.value*50))<0.001", "value": -6.5}, "value": -4},
                "labelExpr": "abs(datum.value*50-round(datum.value*50))<0.001 ? format(datum.value,'.2f') : ''",
                "labelPadding": 11.5, "title": "v", "titleAngle": 0, "titleX": -39, "titleY": 100, "titleAlign": "center", "titleBaseline": "middle"}},
            "color": {"field": "a", "type": "nominal",
              "scale": {"domain": ["α=1.095", "α=1.0", "α=0.9", "α=0.8"], "range": ["#000000", "#ff0000", "#0000ff", "#00ff00"]},
              "legend": {"title": null, "legendX": 212, "legendY": 15}}
          }
        },
        {
          "mark": {"type": "line", "opacity": 0},
          "encoding": {
            "x": {"field": "x", "type": "quantitative", "scale": {"domain": [0, 1]},
              "axis": {"orient": "top", "values": [0,0.05,0.1,0.15,0.2,0.25,0.3,0.35,0.4,0.45,0.5,0.55,0.6,0.65,0.7,0.75,0.8,0.85,0.9,0.95,1],
                "tickSize": {"condition": {"test": "abs(datum.value*5-round(datum.value*5))<0.001", "value": -6.5}, "value": -4}, "labels": false, "title": null}},
            "y": {"field": "y", "type": "quantitative", "scale": {"domain": [0, 0.145]},
              "axis": {"orient": "right", "values": [0,0.005,0.01,0.015,0.02,0.025,0.03,0.035,0.04,0.045,0.05,0.055,0.06,0.065,0.07,0.075,0.08,0.085,0.09,0.095,0.1,0.105,0.11,0.115,0.12,0.125,0.13,0.135,0.14,0.145],
                "tickSize": {"condition": {"test": "abs(datum.value*50-round(datum.value*50))<0.001", "value": -6.5}, "value": -4}, "labels": false, "title": null}}
          }
        }
      ],
      "resolve": {"axis": {"x": "independent", "y": "independent"}}
    },
    {
      "width": 313, "height": 192,
      "data": {"name": "vR"},
      "layer": [
        {
          "mark": {"type": "line", "interpolate": "monotone", "strokeWidth": 1.4, "clip": true},
          "encoding": {
            "x": {"field": "x", "type": "quantitative", "scale": {"domain": [0, 1]},
              "axis": {"orient": "bottom", "values": [0,0.05,0.1,0.15,0.2,0.25,0.3,0.35,0.4,0.45,0.5,0.55,0.6,0.65,0.7,0.75,0.8,0.85,0.9,0.95,1],
                "tickSize": {"condition": {"test": "abs(datum.value*5-round(datum.value*5))<0.001", "value": -6.5}, "value": -4},
                "labelExpr": "abs(datum.value*5-round(datum.value*5))<0.001 ? (datum.value==0 ? '0' : format(datum.value,'.1f')) : ''",
                "labelPadding": 9.5, "title": "x̄", "titleX": 321, "titleY": -1, "titleAlign": "center", "titleBaseline": "alphabetic", "titleAngle": 0}},
            "y": {"field": "y", "type": "quantitative", "scale": {"domain": [0, 0.11]},
              "axis": {"orient": "left", "values": [0,0.005,0.01,0.015,0.02,0.025,0.03,0.035,0.04,0.045,0.05,0.055,0.06,0.065,0.07,0.075,0.08,0.085,0.09,0.095,0.1,0.105,0.11],
                "tickSize": {"condition": {"test": "abs(datum.value*50-round(datum.value*50))<0.001", "value": -6.5}, "value": -4},
                "labelExpr": "abs(datum.value*50-round(datum.value*50))<0.001 ? format(datum.value,'.2f') : ''",
                "labelPadding": 11.5, "title": "v", "titleAngle": 0, "titleX": -39, "titleY": 100, "titleAlign": "center", "titleBaseline": "middle"}},
            "color": {"field": "a", "type": "nominal",
              "scale": {"domain": ["α=1.193", "α=1.13", "α=1.0", "α=0.9", "α=0.8"], "range": ["#000000", "#ff0000", "#0000ff", "#00ff00", "#ff8020"]},
              "legend": {"title": null, "legendX": 215, "legendY": 19.5}}
          }
        },
        {
          "mark": {"type": "line", "opacity": 0},
          "encoding": {
            "x": {"field": "x", "type": "quantitative", "scale": {"domain": [0, 1]},
              "axis": {"orient": "top", "values": [0,0.05,0.1,0.15,0.2,0.25,0.3,0.35,0.4,0.45,0.5,0.55,0.6,0.65,0.7,0.75,0.8,0.85,0.9,0.95,1],
                "tickSize": {"condition": {"test": "abs(datum.value*5-round(datum.value*5))<0.001", "value": -6.5}, "value": -4}, "labels": false, "title": null}},
            "y": {"field": "y", "type": "quantitative", "scale": {"domain": [0, 0.11]},
              "axis": {"orient": "right", "values": [0,0.005,0.01,0.015,0.02,0.025,0.03,0.035,0.04,0.045,0.05,0.055,0.06,0.065,0.07,0.075,0.08,0.085,0.09,0.095,0.1,0.105,0.11],
                "tickSize": {"condition": {"test": "abs(datum.value*50-round(datum.value*50))<0.001", "value": -6.5}, "value": -4}, "labels": false, "title": null}}
          }
        }
      ],
      "resolve": {"axis": {"x": "independent", "y": "independent"}}
    },
    {
      "width": 313, "height": 192,
      "data": {"name": "NL"},
      "layer": [
        {
          "mark": {"type": "line", "interpolate": "monotone", "strokeWidth": 1.4, "clip": true},
          "encoding": {
            "x": {"field": "x", "type": "quantitative", "scale": {"domain": [0, 1]},
              "axis": {"orient": "bottom", "values": [0,0.05,0.1,0.15,0.2,0.25,0.3,0.35,0.4,0.45,0.5,0.55,0.6,0.65,0.7,0.75,0.8,0.85,0.9,0.95,1],
                "tickSize": {"condition": {"test": "abs(datum.value*5-round(datum.value*5))<0.001", "value": -6.5}, "value": -4},
                "labelExpr": "abs(datum.value*5-round(datum.value*5))<0.001 ? (datum.value==0 ? '0' : format(datum.value,'.1f')) : ''",
                "labelPadding": 9.5, "title": "x̄", "titleX": 321, "titleY": -1, "titleAlign": "center", "titleBaseline": "alphabetic", "titleAngle": 0}},
            "y": {"field": "y", "type": "quantitative", "scale": {"domain": [0, 1]},
              "axis": {"orient": "left", "values": [0,0.05,0.1,0.15,0.2,0.25,0.3,0.35,0.4,0.45,0.5,0.55,0.6,0.65,0.7,0.75,0.8,0.85,0.9,0.95,1],
                "tickSize": {"condition": {"test": "abs(datum.value*5-round(datum.value*5))<0.001", "value": -6.5}, "value": -4},
                "labelExpr": "abs(datum.value*5-round(datum.value*5))<0.001 ? format(datum.value,'.1f') : ''",
                "labelPadding": 11.5, "title": "N", "titleAngle": 0, "titleX": -31, "titleY": 98, "titleAlign": "center", "titleBaseline": "middle"}},
            "color": {"field": "a", "type": "nominal",
              "scale": {"domain": ["α=1.095", "α=1.0", "α=0.9", "α=0.8"], "range": ["#000000", "#ff0000", "#0000ff", "#00ff00"]},
              "legend": {"title": null, "legendX": 20, "legendY": 114.5}}
          }
        },
        {
          "mark": {"type": "line", "opacity": 0},
          "encoding": {
            "x": {"field": "x", "type": "quantitative", "scale": {"domain": [0, 1]},
              "axis": {"orient": "top", "values": [0,0.05,0.1,0.15,0.2,0.25,0.3,0.35,0.4,0.45,0.5,0.55,0.6,0.65,0.7,0.75,0.8,0.85,0.9,0.95,1],
                "tickSize": {"condition": {"test": "abs(datum.value*5-round(datum.value*5))<0.001", "value": -6.5}, "value": -4}, "labels": false, "title": null}},
            "y": {"field": "y", "type": "quantitative", "scale": {"domain": [0, 1]},
              "axis": {"orient": "right", "values": [0,0.05,0.1,0.15,0.2,0.25,0.3,0.35,0.4,0.45,0.5,0.55,0.6,0.65,0.7,0.75,0.8,0.85,0.9,0.95,1],
                "tickSize": {"condition": {"test": "abs(datum.value*5-round(datum.value*5))<0.001", "value": -6.5}, "value": -4}, "labels": false, "title": null}}
          }
        }
      ],
      "resolve": {"axis": {"x": "independent", "y": "independent"}}
    },
    {
      "width": 313, "height": 192,
      "data": {"name": "NR"},
      "layer": [
        {
          "mark": {"type": "line", "interpolate": "monotone", "strokeWidth": 1.4, "clip": true},
          "encoding": {
            "x": {"field": "x", "type": "quantitative", "scale": {"domain": [0, 1]},
              "axis": {"orient": "bottom", "values": [0,0.05,0.1,0.15,0.2,0.25,0.3,0.35,0.4,0.45,0.5,0.55,0.6,0.65,0.7,0.75,0.8,0.85,0.9,0.95,1],
                "tickSize": {"condition": {"test": "abs(datum.value*5-round(datum.value*5))<0.001", "value": -6.5}, "value": -4},
                "labelExpr": "abs(datum.value*5-round(datum.value*5))<0.001 ? (datum.value==0 ? '0' : format(datum.value,'.1f')) : ''",
                "labelPadding": 9.5, "title": "x̄", "titleX": 321, "titleY": -1, "titleAlign": "center", "titleBaseline": "alphabetic", "titleAngle": 0}},
            "y": {"field": "y", "type": "quantitative", "scale": {"domain": [0, 1]},
              "axis": {"orient": "left", "values": [0,0.05,0.1,0.15,0.2,0.25,0.3,0.35,0.4,0.45,0.5,0.55,0.6,0.65,0.7,0.75,0.8,0.85,0.9,0.95,1],
                "tickSize": {"condition": {"test": "abs(datum.value*5-round(datum.value*5))<0.001", "value": -6.5}, "value": -4},
                "labelExpr": "abs(datum.value*5-round(datum.value*5))<0.001 ? format(datum.value,'.1f') : ''",
                "labelPadding": 11.5, "title": "N", "titleAngle": 0, "titleX": -32, "titleY": 98, "titleAlign": "center", "titleBaseline": "middle"}},
            "color": {"field": "a", "type": "nominal",
              "scale": {"domain": ["α=1.193", "α=1.13", "α=1.0", "α=0.9", "α=0.8"], "range": ["#000000", "#ff0000", "#0000ff", "#00ff00", "#ff8020"]},
              "legend": {"title": null, "legendX": 18, "legendY": 98.5}}
          }
        },
        {
          "mark": {"type": "line", "opacity": 0},
          "encoding": {
            "x": {"field": "x", "type": "quantitative", "scale": {"domain": [0, 1]},
              "axis": {"orient": "top", "values": [0,0.05,0.1,0.15,0.2,0.25,0.3,0.35,0.4,0.45,0.5,0.55,0.6,0.65,0.7,0.75,0.8,0.85,0.9,0.95,1],
                "tickSize": {"condition": {"test": "abs(datum.value*5-round(datum.value*5))<0.001", "value": -6.5}, "value": -4}, "labels": false, "title": null}},
            "y": {"field": "y", "type": "quantitative", "scale": {"domain": [0, 1]},
              "axis": {"orient": "right", "values": [0,0.05,0.1,0.15,0.2,0.25,0.3,0.35,0.4,0.45,0.5,0.55,0.6,0.65,0.7,0.75,0.8,0.85,0.9,0.95,1],
                "tickSize": {"condition": {"test": "abs(datum.value*5-round(datum.value*5))<0.001", "value": -6.5}, "value": -4}, "labels": false, "title": null}}
          }
        }
      ],
      "resolve": {"axis": {"x": "independent", "y": "independent"}}
    },
    {
      "width": 313, "height": 192,
      "data": {"name": "sL"},
      "layer": [
        {
          "mark": {"type": "line", "interpolate": "monotone", "strokeWidth": 1.4, "clip": true},
          "encoding": {
            "x": {"field": "x", "type": "quantitative", "scale": {"domain": [0, 1]},
              "axis": {"orient": "bottom", "values": [0,0.05,0.1,0.15,0.2,0.25,0.3,0.35,0.4,0.45,0.5,0.55,0.6,0.65,0.7,0.75,0.8,0.85,0.9,0.95,1],
                "tickSize": {"condition": {"test": "abs(datum.value*5-round(datum.value*5))<0.001", "value": -6.5}, "value": -4},
                "labelExpr": "abs(datum.value*5-round(datum.value*5))<0.001 ? (datum.value==0 ? '0' : format(datum.value,'.1f')) : ''",
                "labelPadding": 9.5, "title": "x̄", "titleX": 321, "titleY": -1, "titleAlign": "center", "titleBaseline": "alphabetic", "titleAngle": 0}},
            "y": {"field": "y", "type": "quantitative", "scale": {"domain": [0, 1]},
              "axis": {"orient": "left", "values": [0,0.05,0.1,0.15,0.2,0.25,0.3,0.35,0.4,0.45,0.5,0.55,0.6,0.65,0.7,0.75,0.8,0.85,0.9,0.95,1],
                "tickSize": {"condition": {"test": "abs(datum.value*5-round(datum.value*5))<0.001", "value": -6.5}, "value": -4},
                "labelExpr": "abs(datum.value*5-round(datum.value*5))<0.001 ? format(datum.value,'.1f') : ''",
                "labelPadding": 11.5, "title": "σ", "titleFontStyle": "normal", "titleX": -31, "titleY": 99, "titleAlign": "center", "titleBaseline": "middle"}},
            "color": {"field": "a", "type": "nominal",
              "scale": {"domain": ["α=1.095", "α=1.0", "α=0.9", "α=0.8"], "range": ["#000000", "#ff0000", "#0000ff", "#00ff00"]},
              "legend": {"title": null, "legendX": 218, "legendY": 20.5}}
          }
        },
        {
          "mark": {"type": "line", "opacity": 0},
          "encoding": {
            "x": {"field": "x", "type": "quantitative", "scale": {"domain": [0, 1]},
              "axis": {"orient": "top", "values": [0,0.05,0.1,0.15,0.2,0.25,0.3,0.35,0.4,0.45,0.5,0.55,0.6,0.65,0.7,0.75,0.8,0.85,0.9,0.95,1],
                "tickSize": {"condition": {"test": "abs(datum.value*5-round(datum.value*5))<0.001", "value": -6.5}, "value": -4}, "labels": false, "title": null}},
            "y": {"field": "y", "type": "quantitative", "scale": {"domain": [0, 1]},
              "axis": {"orient": "right", "values": [0,0.05,0.1,0.15,0.2,0.25,0.3,0.35,0.4,0.45,0.5,0.55,0.6,0.65,0.7,0.75,0.8,0.85,0.9,0.95,1],
                "tickSize": {"condition": {"test": "abs(datum.value*5-round(datum.value*5))<0.001", "value": -6.5}, "value": -4}, "labels": false, "title": null}}
          }
        }
      ],
      "resolve": {"axis": {"x": "independent", "y": "independent"}}
    },
    {
      "width": 313, "height": 192,
      "data": {"name": "sR"},
      "layer": [
        {
          "mark": {"type": "line", "interpolate": "monotone", "strokeWidth": 1.4, "clip": true},
          "encoding": {
            "x": {"field": "x", "type": "quantitative", "scale": {"domain": [0, 1]},
              "axis": {"orient": "bottom", "values": [0,0.05,0.1,0.15,0.2,0.25,0.3,0.35,0.4,0.45,0.5,0.55,0.6,0.65,0.7,0.75,0.8,0.85,0.9,0.95,1],
                "tickSize": {"condition": {"test": "abs(datum.value*5-round(datum.value*5))<0.001", "value": -6.5}, "value": -4},
                "labelExpr": "abs(datum.value*5-round(datum.value*5))<0.001 ? (datum.value==0 ? '0' : format(datum.value,'.1f')) : ''",
                "labelPadding": 9.5, "title": "x̄", "titleX": 321, "titleY": -1, "titleAlign": "center", "titleBaseline": "alphabetic", "titleAngle": 0}},
            "y": {"field": "y", "type": "quantitative", "scale": {"domain": [0, 1]},
              "axis": {"orient": "left", "values": [0,0.05,0.1,0.15,0.2,0.25,0.3,0.35,0.4,0.45,0.5,0.55,0.6,0.65,0.7,0.75,0.8,0.85,0.9,0.95,1],
                "tickSize": {"condition": {"test": "abs(datum.value*5-round(datum.value*5))<0.001", "value": -6.5}, "value": -4},
                "labelExpr": "abs(datum.value*5-round(datum.value*5))<0.001 ? format(datum.value,'.1f') : ''",
                "labelPadding": 11.5, "title": "σ", "titleFontStyle": "normal", "titleX": -32, "titleY": 99, "titleAlign": "center", "titleBaseline": "middle"}},
            "color": {"field": "a", "type": "nominal",
              "scale": {"domain": ["α=1.193", "α=1.13", "α=1.0", "α=0.9", "α=0.8"], "range": ["#000000", "#ff0000", "#0000ff", "#00ff00", "#ff8020"]},
              "legend": {"title": null, "legendX": 214, "legendY": 16}}
          }
        },
        {
          "mark": {"type": "line", "opacity": 0},
          "encoding": {
            "x": {"field": "x", "type": "quantitative", "scale": {"domain": [0, 1]},
              "axis": {"orient": "top", "values": [0,0.05,0.1,0.15,0.2,0.25,0.3,0.35,0.4,0.45,0.5,0.55,0.6,0.65,0.7,0.75,0.8,0.85,0.9,0.95,1],
                "tickSize": {"condition": {"test": "abs(datum.value*5-round(datum.value*5))<0.001", "value": -6.5}, "value": -4}, "labels": false, "title": null}},
            "y": {"field": "y", "type": "quantitative", "scale": {"domain": [0, 1]},
              "axis": {"orient": "right", "values": [0,0.05,0.1,0.15,0.2,0.25,0.3,0.35,0.4,0.45,0.5,0.55,0.6,0.65,0.7,0.75,0.8,0.85,0.9,0.95,1],
                "tickSize": {"condition": {"test": "abs(datum.value*5-round(datum.value*5))<0.001", "value": -6.5}, "value": -4}, "labels": false, "title": null}}
          }
        }
      ],
      "resolve": {"axis": {"x": "independent", "y": "independent"}}
    }
  ]
}
